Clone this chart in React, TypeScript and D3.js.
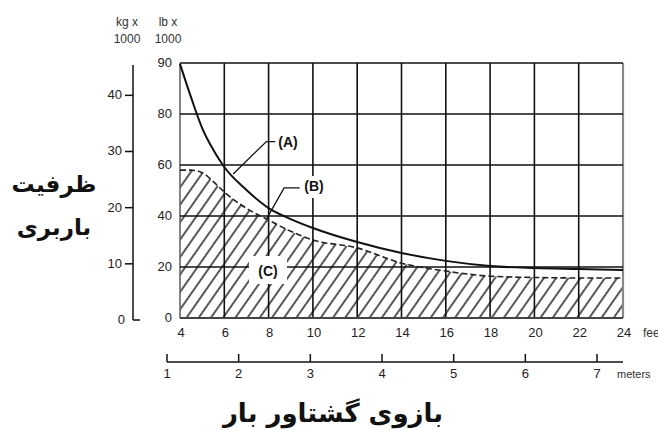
import React from "react";
import * as d3 from "d3";

const feetTicks = [4, 6, 8, 10, 12, 14, 16, 18, 20, 22, 24];
const meterTicks = [1, 2, 3, 4, 5, 6, 7];
const kgTicks = [0, 10, 20, 30, 40];
const lbTickValues = [0, 20, 40, 60, 80, 100];
const lbTickLabels = ["0", "20", "40", "60", "80", "90"];

const curveAFeet = [4, 4.5, 5, 5.5, 6, 7, 8, 9, 10, 12, 14, 16, 18, 20, 22, 24];
const curveAValues = [99.6, 86.5, 74.5, 66, 59.2, 50.2, 43.1, 38.8, 35.3, 29.8, 25.5, 22.4, 20.4, 19.6, 19.2, 18.8];

const curveBFeet = [4, 4.5, 5, 5.5, 6, 7, 8, 9, 10, 12, 14, 16, 17, 18, 20, 22, 24];
const curveBValues = [58, 58, 57, 53.5, 49.4, 43, 38.4, 34, 30.6, 27.5, 21.5, 18.4, 17.2, 16.4, 15.9, 15.7, 15.7];

const W = 658;
const H = 430;
const FONT = "'Liberation Sans', Arial, sans-serif";
const AR_FONT = "'DejaVu Sans', sans-serif";

export default function App() {
  const x = d3.scaleLinear().domain([4, 24]).range([180, 623]);
  const y = d3.scaleLinear().domain([0, 100]).range([318, 63]);
  const kg = d3.scaleLinear().domain([0, 45.4]).range([320, 65]);
  const m = d3.scaleLinear().domain([1, 7]).range([167, 597]);

  const dataA = curveAFeet.map((f, i) => [f, curveAValues[i]] as [number, number]);
  const dataB = curveBFeet.map((f, i) => [f, curveBValues[i]] as [number, number]);

  const lineGen = d3
    .line<[number, number]>()
    .x((d) => x(d[0]))
    .y((d) => y(d[1]))
    .curve(d3.curveMonotoneX);
  const areaGen = d3
    .area<[number, number]>()
    .x((d) => x(d[0]))
    .y0(y(0))
    .y1((d) => y(d[1]))
    .curve(d3.curveMonotoneX);

  const gridX = feetTicks;
  const gridY = lbTickValues;

  return (
    <svg
      width={W}
      height={H}
      style={{ position: "absolute", left: 0, top: 0, background: "#fff" }}
    >
      <defs>
        <pattern
          id="hatch"
          patternUnits="userSpaceOnUse"
          width={10}
          height={10}
          patternTransform="rotate(35)"
        >
          <line x1={5} y1={-1} x2={5} y2={11} stroke="#111" strokeWidth={1.4} />
        </pattern>
      </defs>
      <rect x={0} y={0} width={W} height={H} fill="#fff" />

      {/* hatched region C */}
      <path d={areaGen(dataB) || ""} fill="url(#hatch)" />

      {/* grid */}
      {gridX.map((f) => (
        <line
          key={"gx" + f}
          x1={x(f)}
          x2={x(f)}
          y1={y(0)}
          y2={y(100)}
          stroke={f === 24 ? "#888" : f === 4 ? "#666" : "#111"}
          strokeWidth={f === 24 ? 2.2 : 1.6}
        />
      ))}
      {gridY.map((v) => (
        <line
          key={"gy" + v}
          x1={x(4)}
          x2={x(24)}
          y1={y(v)}
          y2={y(v)}
          stroke={v === 0 ? "#444" : "#111"}
          strokeWidth={v === 0 ? 2.2 : 1.6}
        />
      ))}

      {/* curve B dashed */}
      <path
        d={lineGen(dataB) || ""}
        fill="none"
        stroke="#222"
        strokeWidth={1.6}
        strokeDasharray="6 3"
      />
      {/* curve A */}
      <path d={lineGen(dataA) || ""} fill="none" stroke="#111" strokeWidth={2} />

      {/* leaders */}
      <polyline
        points={`${x(6.4)},${y(56.5)} ${x(7.9)},${y(69.2)} ${x(8.3)},${y(69.2)}`}
        fill="none"
        stroke="#111"
        strokeWidth={1.3}
      />
      <polyline
        points={`${x(7.9)},${y(38.8)} ${x(8.7)},${y(51)} ${x(9.4)},${y(51)}`}
        fill="none"
        stroke="#111"
        strokeWidth={1.3}
      />

      {/* labels A B C */}
      <text x={288} y={147} fontFamily={FONT} fontSize={14} fontWeight="bold" textAnchor="middle" fill="#111">
        (A)
      </text>
      <rect x={300} y={176} width={28} height={22} fill="#fff" />
      <text x={314} y={191} fontFamily={FONT} fontSize={14} fontWeight="bold" textAnchor="middle" fill="#111">
        (B)
      </text>
      <rect x={249} y={256} width={38} height={28} fill="#fff" />
      <text x={268} y={276} fontFamily={FONT} fontSize={14} fontWeight="bold" textAnchor="middle" fill="#111">
        (C)
      </text>

      {/* feet tick labels */}
      {feetTicks.map((f) => (
        <text
          key={"ft" + f}
          x={x(f) + 1}
          y={337}
          fontFamily={FONT}
          fontSize={13}
          textAnchor="middle"
          fill="#222"
        >
          {f}
        </text>
      ))}
      <text x={643} y={337} fontFamily={FONT} fontSize={12} fill="#333">
        feet
      </text>

      {/* meters axis */}
      <line x1={m(1)} x2={x(24)} y1={362} y2={362} stroke="#111" strokeWidth={1.5} />
      {meterTicks.map((v) => (
        <g key={"m" + v}>
          <line x1={m(v)} x2={m(v)} y1={354} y2={362} stroke="#111" strokeWidth={1.5} />
          <text x={m(v)} y={378} fontFamily={FONT} fontSize={13} textAnchor="middle" fill="#222">
            {v}
          </text>
        </g>
      ))}
      <text x={617} y={378} fontFamily={FONT} fontSize={11} fill="#333">
        meters
      </text>

      {/* lb axis labels */}
      {lbTickValues.map((v, i) => (
        <text
          key={"lb" + v}
          x={172}
          y={y(v) + 4}
          fontFamily={FONT}
          fontSize={13}
          textAnchor="end"
          fill="#222"
        >
          {lbTickLabels[i]}
        </text>
      ))}

      {/* kg axis */}
      <line x1={133} x2={133} y1={kg(45.4)} y2={kg(0)} stroke="#111" strokeWidth={1.5} />
      <line x1={133} x2={140} y1={kg(0)} y2={kg(0)} stroke="#111" strokeWidth={1.5} />
      {kgTicks
        .filter((v) => v > 0)
        .map((v) => (
          <line key={"kgt" + v} x1={125} x2={133} y1={kg(v)} y2={kg(v)} stroke="#111" strokeWidth={1.5} />
        ))}
      {kgTicks.map((v) => (
        <text
          key={"kg" + v}
          x={v === 0 ? 125 : 122}
          y={kg(v) + 4}
          fontFamily={FONT}
          fontSize={13}
          textAnchor="end"
          fill="#222"
        >
          {v}
        </text>
      ))}

      {/* unit header */}
      <text x={127} y={26} fontFamily={FONT} fontSize={12} textAnchor="middle" fill="#333">
        kg x
      </text>
      <text x={127} y={43} fontFamily={FONT} fontSize={12} textAnchor="middle" fill="#333">
        1000
      </text>
      <text x={168} y={26} fontFamily={FONT} fontSize={12} textAnchor="middle" fill="#333">
        lb x
      </text>
      <text x={168} y={43} fontFamily={FONT} fontSize={12} textAnchor="middle" fill="#333">
        1000
      </text>

      {/* Persian titles */}
      <text x={54} y={192} fontFamily={AR_FONT} fontSize={23} fontWeight="bold" textAnchor="middle" fill="#111" direction="rtl">
        ظرفیت
      </text>
      <text x={54} y={235} fontFamily={AR_FONT} fontSize={23} fontWeight="bold" textAnchor="middle" fill="#111" direction="rtl">
        باربری
      </text>
      <text x={333} y={422} fontFamily={AR_FONT} fontSize={26} fontWeight="bold" textAnchor="middle" fill="#111" direction="rtl">
        بازوی گشتاور بار
      </text>
    </svg>
  );
}
